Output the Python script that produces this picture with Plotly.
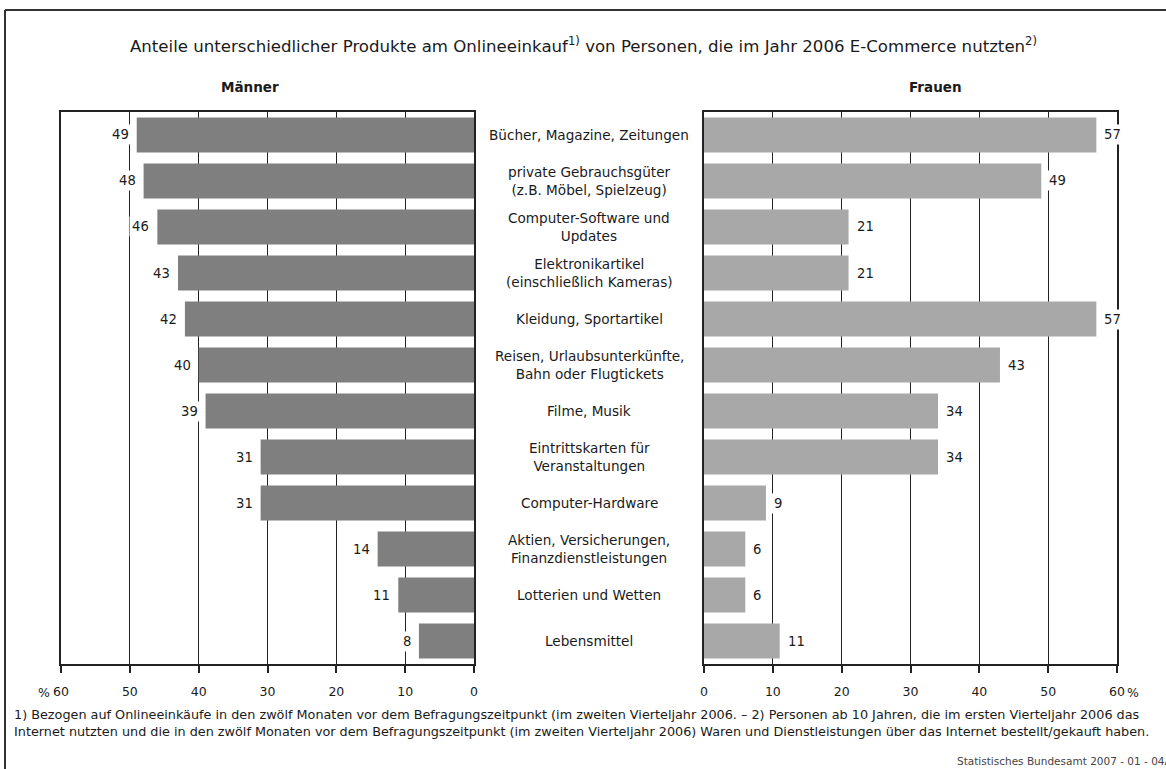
import plotly.graph_objects as go

W, H = 1166, 769

categories = [
    "Bücher, Magazine, Zeitungen",
    "private Gebrauchsgüter<br>(z.B. Möbel, Spielzeug)",
    "Computer-Software und<br>Updates",
    "Elektronikartikel<br>(einschließlich Kameras)",
    "Kleidung, Sportartikel",
    "Reisen, Urlaubsunterkünfte,<br>Bahn oder Flugtickets",
    "Filme, Musik",
    "Eintrittskarten für<br>Veranstaltungen",
    "Computer-Hardware",
    "Aktien, Versicherungen,<br>Finanzdienstleistungen",
    "Lotterien und Wetten",
    "Lebensmittel",
]
maenner = [49, 48, 46, 43, 42, 40, 39, 31, 31, 14, 11, 8]
frauen = [57, 49, 21, 21, 57, 43, 34, 34, 9, 6, 6, 11]
tick_vals = [0, 10, 20, 30, 40, 50, 60]
tick_text = ["0", "10", "20", "30", "40", "50", "60"]

title = ("Anteile unterschiedlicher Produkte am Onlineeinkauf<sup>1)</sup> von Personen, "
         "die im Jahr 2006 E-Commerce nutzten<sup>2)</sup>")
foot1 = ("1) Bezogen auf Onlineeinkäufe in den zwölf Monaten vor dem Befragungszeitpunkt "
         "(im zweiten Vierteljahr 2006. – 2) Personen ab 10 Jahren, die im ersten Vierteljahr 2006 das")
foot2 = ("Internet nutzten und die in den zwölf Monaten vor dem Befragungszeitpunkt "
         "(im zweiten Vierteljahr 2006) Waren und Dienstleistungen über das Internet bestellt/gekauft haben.")
source = "Statistisches Bundesamt 2007 - 01 - 04A4"

FONT = "DejaVu Sans"
TXT = "#1a1a1a"
LINE = "#222222"

def px(x):
    return x / W

def py(y):
    return 1 - y / H

fig = go.Figure()
fig.add_trace(go.Bar(y=categories, x=maenner, orientation="h", xaxis="x", yaxis="y",
                     marker=dict(color="#7f7f7f", line=dict(width=0)), width=0.76,
                     hoverinfo="x+y", showlegend=False))
fig.add_trace(go.Bar(y=categories, x=frauen, orientation="h", xaxis="x2", yaxis="y2",
                     marker=dict(color="#a8a8a8", line=dict(width=0)), width=0.76,
                     hoverinfo="x+y", showlegend=False))

ydom = [py(664), py(112)]
xcommon = dict(tickvals=tick_vals, ticktext=tick_text, showgrid=True, gridcolor=LINE,
               gridwidth=1, zeroline=False, showline=True, linecolor=LINE, linewidth=1.5,
               mirror=True, ticks="outside", ticklen=7, tickcolor=LINE, tickwidth=1.5,
               tickfont=dict(family=FONT, size=12.5, color=TXT), ticklabelstandoff=8,
               automargin=False, fixedrange=True)
ycommon = dict(domain=ydom, categoryorder="array", categoryarray=categories,
               autorange="reversed", showticklabels=False, showgrid=False, zeroline=False,
               showline=True, linecolor=LINE, linewidth=1.5, mirror=True, ticks="",
               automargin=False, fixedrange=True)

fig.update_layout(
    width=W, height=H,
    margin=dict(l=0, r=0, t=0, b=0, pad=0, autoexpand=False),
    paper_bgcolor="white", plot_bgcolor="white",
    xaxis=dict(domain=[px(61), px(474)], range=[60, 0], anchor="y", **xcommon),
    xaxis2=dict(domain=[px(704), px(1117)], range=[0, 60], anchor="y2", **xcommon),
    yaxis=dict(anchor="x", **ycommon),
    yaxis2=dict(anchor="x2", **ycommon),
)

def txt(text, x, y, size, xanchor="center", yanchor="middle", color=TXT, **kw):
    return dict(text=text, x=px(x), y=py(y), xref="paper", yref="paper",
                xanchor=xanchor, yanchor=yanchor, showarrow=False,
                font=dict(family=FONT, size=size, color=color, **kw.pop("fontkw", {})), **kw)

ann = []
ann.append(txt(title, 583, 45, 16.6))
ann.append(txt("Männer", 250, 87, 13.5, fontkw=dict(weight="bold")))
ann.append(txt("Frauen", 935, 87, 13.5, fontkw=dict(weight="bold")))
for c in categories:
    ann.append(dict(text=c, x=px(589), y=c, xref="paper", yref="y", showarrow=False,
                    xanchor="center", yanchor="middle",
                    font=dict(family=FONT, size=13.6, color=TXT)))
for c, v in zip(categories, maenner):
    ann.append(dict(text=str(v), x=v, y=c, xref="x", yref="y", xanchor="right",
                    yanchor="middle", xshift=-5, showarrow=False, bgcolor="white", borderpad=2,
                    font=dict(family=FONT, size=13.2, color=TXT)))
for c, v in zip(categories, frauen):
    ann.append(dict(text=str(v), x=v, y=c, xref="x2", yref="y2", xanchor="left",
                    yanchor="middle", xshift=5, showarrow=False, bgcolor="white", borderpad=2,
                    font=dict(family=FONT, size=13.2, color=TXT)))
ann.append(txt("%", 52, 692, 12.5, xanchor="right"))
ann.append(txt("%", 1125, 692, 12.5, xanchor="left"))
ann.append(txt(foot1 + "<br>" + foot2, 12, 723, 12.8, xanchor="left", align="left"))
ann.append(txt(source, 955, 761, 10.5, xanchor="left", color="#444"))
fig.update_layout(annotations=ann)

fig.add_shape(type="line", xref="paper", yref="paper", x0=px(5), x1=px(5), y0=py(10), y1=0,
              line=dict(color="#333", width=2))
fig.add_shape(type="line", xref="paper", yref="paper", x0=px(5), x1=1, y0=py(10), y1=py(10),
              line=dict(color="#333", width=2))

fig.write_html("out.html")
